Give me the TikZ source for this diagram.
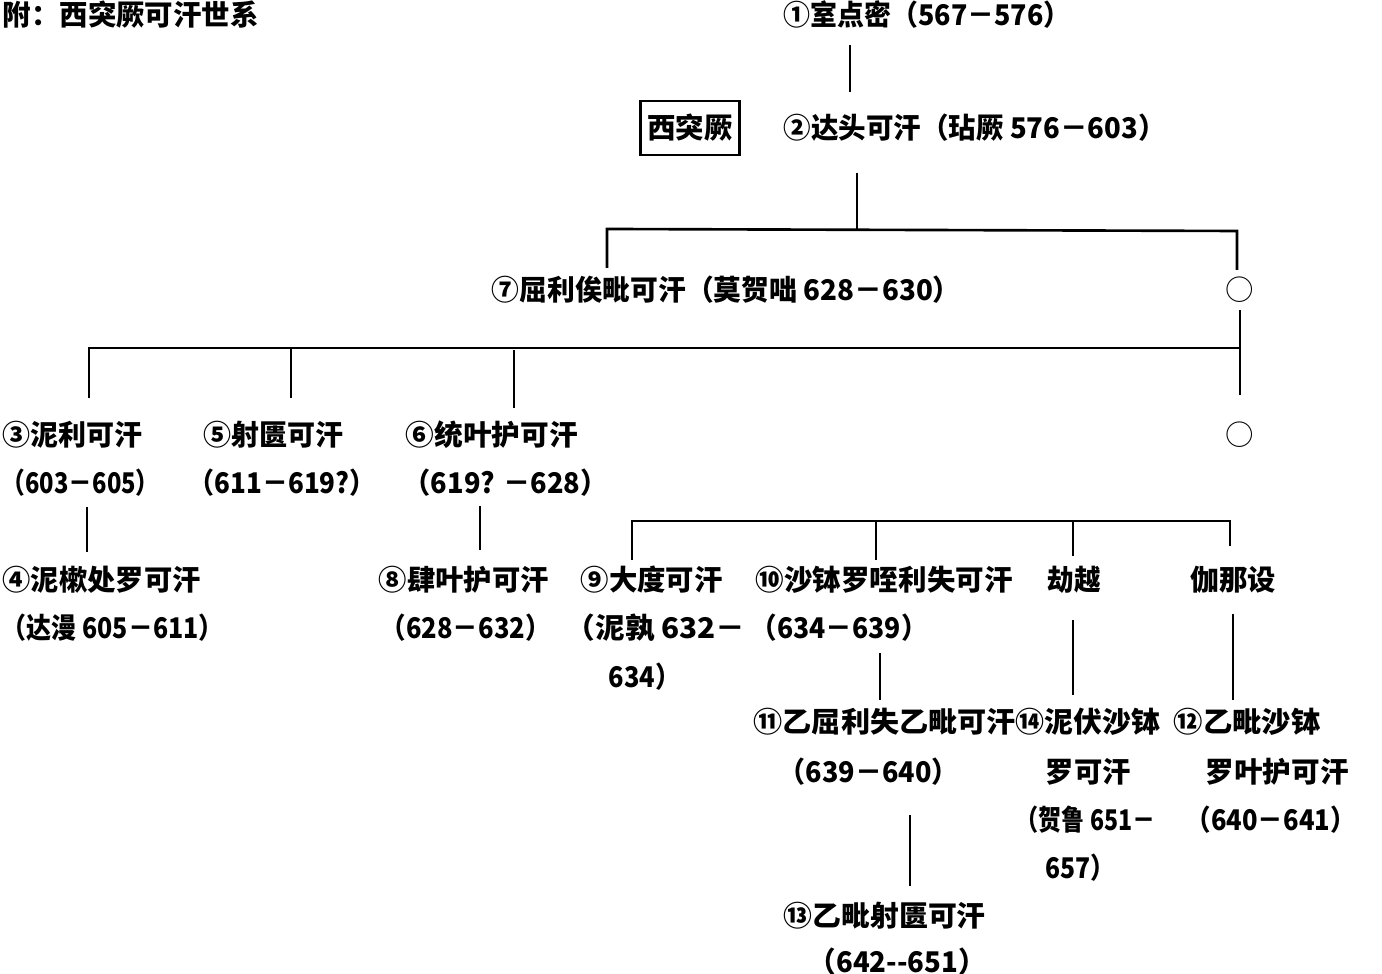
\documentclass[tikz,border=0pt]{standalone}
\usepackage{fontspec}
\usepackage{graphicx}
\setmainfont{Noto Sans CJK SC}
\newlength\pxu
\setlength\pxu{0.01cm}
\newcommand\fitw[2]{\resizebox{#1\pxu}{\height}{#2}}
\begin{document}
\begin{tikzpicture}[x=0.01cm,y=-0.01cm,
  lbl/.style={font=\fontsize{8.1pt}{9.5pt}\selectfont\bfseries, inner sep=0pt, anchor=west},
  ctr/.style={lbl, anchor=center},
  ring/.style={ctr, font=\fontsize{8.1pt}{9.5pt}\selectfont},
  framed/.style={ctr, draw, line width=0.8pt, minimum width=0.99cm, minimum height=0.54cm},
  ln/.style={line width=0.75pt}]
\useasboundingbox (0,0) rectangle (1382,974);
% texts
\node[lbl] (title) at (2,15) {\fitw{256}{附：西突厥可汗世系}};
\node[lbl] (n1) at (783,15) {\fitw{287}{①室点密（567－576）}};
\node[framed] (box) at (690,128) {西突厥};
\node[lbl] (n2) at (783,128) {\fitw{382}{②达头可汗（玷厥 576－603）}};
\node[lbl] (n7) at (491,290) {\fitw{469}{⑦屈利俟毗可汗（莫贺咄 628－630）}};
\node[ring] (o1) at (1240,290) {○};
\node[lbl] (n3) at (2,435) {\fitw{140}{③泥利可汗}};
\node[lbl] (n3d) at (1,483) {\fitw{158}{（603－605）}};
\node[lbl] (n5) at (203,435) {\fitw{140}{⑤射匮可汗}};
\node[lbl] (n5d) at (188,483) {\fitw{187}{（611－619?）}};
\node[lbl] (n6) at (405,435) {\fitw{172}{⑥统叶护可汗}};
\node[lbl] (n6d) at (403,483) {\fitw{204}{（619? －628）}};
\node[ring] (o2) at (1240,435) {○};
\node[lbl] (n4) at (2,580) {\fitw{198}{④泥樕处罗可汗}};
\node[lbl] (n4d) at (1,628) {\fitw{222}{（达漫 605－611）}};
\node[lbl] (n8) at (378,580) {\fitw{170}{⑧肆叶护可汗}};
\node[lbl] (n8d) at (380,628) {\fitw{170}{（628－632）}};
\node[lbl] (n9) at (580,580) {\fitw{142}{⑨大度可汗}};
\node[lbl] (n9d) at (565,628) {\fitw{180}{（泥孰 632－}};
\node[lbl] (n9e) at (608,677) {\fitw{72}{634）}};
\node[lbl] (n10) at (755,580) {\fitw{257}{⑩沙钵罗咥利失可汗}};
\node[lbl] (n10d) at (750,628) {\fitw{177}{（634－639）}};
\node[lbl] (jy) at (1047,580) {\fitw{53}{劫越}};
\node[lbl] (gns) at (1190,580) {\fitw{85}{伽那设}};
\node[lbl] (n11) at (753,722) {\fitw{262}{⑪乙屈利失乙毗可汗}};
\node[lbl] (n11d) at (778,772) {\fitw{180}{（639－640）}};
\node[lbl] (n14) at (1015,722) {\fitw{145}{⑭泥伏沙钵}};
\node[lbl] (n14b) at (1045,772) {\fitw{85}{罗可汗}};
\node[lbl] (n14c) at (1015,820) {\fitw{140}{（贺鲁 651－}};
\node[lbl] (n14d) at (1045,868) {\fitw{70}{657）}};
\node[lbl] (n12) at (1173,722) {\fitw{147}{⑫乙毗沙钵}};
\node[lbl] (n12b) at (1205,772) {\fitw{143}{罗叶护可汗}};
\node[lbl] (n12c) at (1185,820) {\fitw{170}{（640－641）}};
\node[lbl] (n13) at (783,916) {\fitw{202}{⑬乙毗射匮可汗}};
\node[lbl] (n13d) at (808,962) {\fitw{177}{（642-{}-651）}};
% connector end points
\coordinate (a1) at (850,45);  \coordinate (a2) at (850,92);
\coordinate (b1) at (857,173); \coordinate (b2) at (857,229);
\coordinate (bl) at (607,229); \coordinate (bl2) at (607,268);
\coordinate (br) at (1237,231); \coordinate (br2) at (1237,270);
\coordinate (c1) at (1240,310); \coordinate (c2) at (1240,395);
\coordinate (h1) at (89,348);  \coordinate (h2) at (1240,348);
\coordinate (d3) at (89,398);
\coordinate (e5) at (291,348); \coordinate (e5b) at (291,398);
\coordinate (e6) at (514,350); \coordinate (e6b) at (514,408);
\coordinate (f1) at (87,507);  \coordinate (f2) at (87,552);
\coordinate (g1) at (480,506); \coordinate (g2) at (480,550);
\coordinate (k1) at (632,521); \coordinate (k1b) at (632,560);
\coordinate (k2) at (876,521); \coordinate (k2b) at (876,560);
\coordinate (k3) at (1073,521); \coordinate (k3b) at (1073,556);
\coordinate (k4) at (1230,521); \coordinate (k4b) at (1230,546);
\coordinate (m1) at (880,653); \coordinate (m2) at (880,700);
\coordinate (p1) at (1073,620); \coordinate (p2) at (1073,695);
\coordinate (q1) at (1233,614); \coordinate (q2) at (1233,700);
\coordinate (r1) at (910,815); \coordinate (r2) at (910,886);
% connectors
\draw[ln] (a1) -- (a2);
\draw[ln] (b1) -- (b2);
\draw[ln] (bl2) -- (bl) -- (br) -- (br2);
\draw[ln] (c1) -- (c2);
\draw[ln] (d3) -- (h1) -- (h2);
\draw[ln] (e5) -- (e5b);
\draw[ln] (e6) -- (e6b);
\draw[ln] (f1) -- (f2);
\draw[ln] (g1) -- (g2);
\draw[ln] (k1b) -- (k1) -- (k4) -- (k4b);
\draw[ln] (k2) -- (k2b);
\draw[ln] (k3) -- (k3b);
\draw[ln] (m1) -- (m2);
\draw[ln] (p1) -- (p2);
\draw[ln] (q1) -- (q2);
\draw[ln] (r1) -- (r2);
\end{tikzpicture}
\end{document}
